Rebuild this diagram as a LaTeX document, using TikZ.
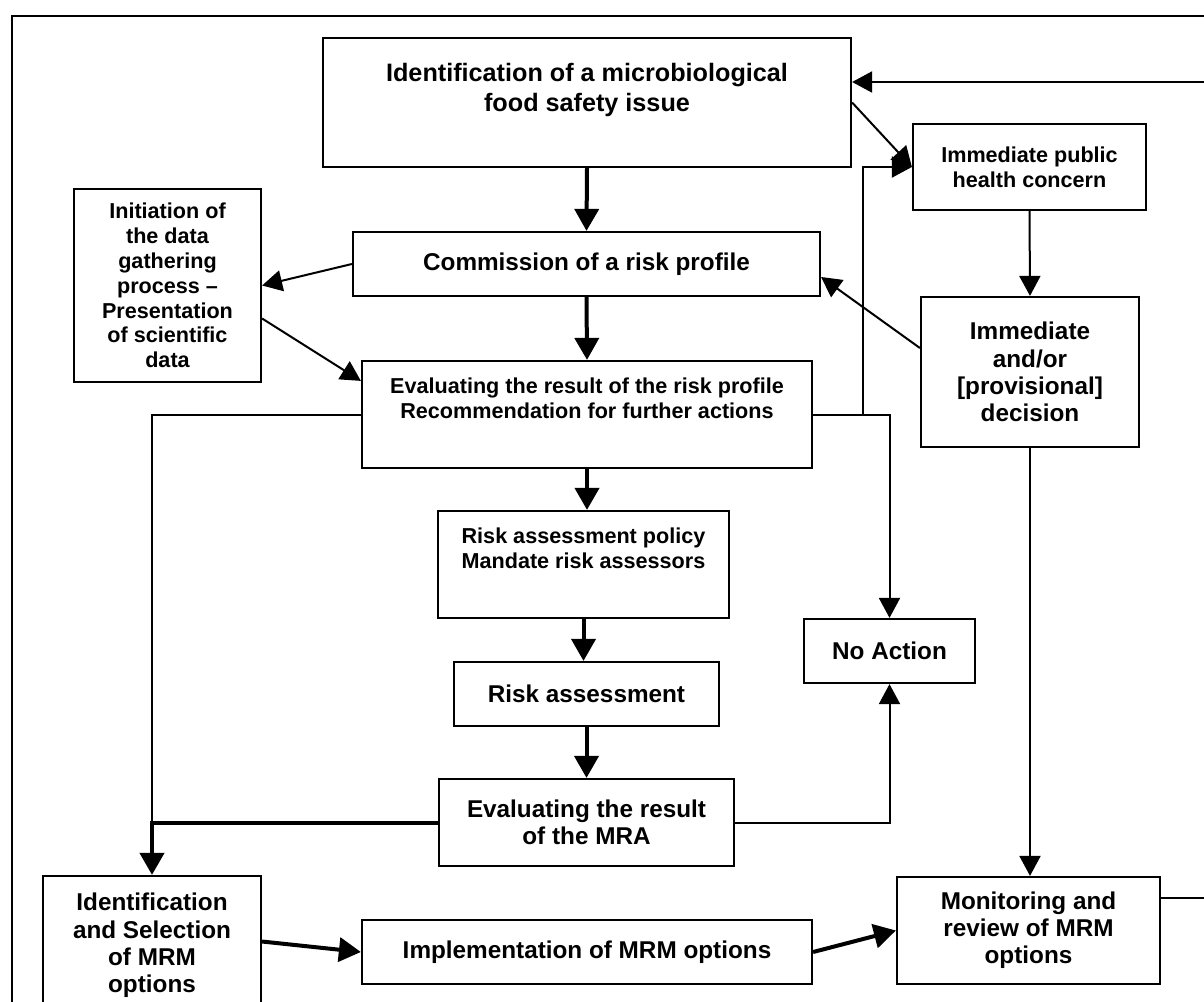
\documentclass[tikz,border=0pt]{standalone}
\usepackage{fontspec}
\setmainfont{Liberation Sans}
\usetikzlibrary{arrows.meta,calc}

\newcommand{\bigtxt}{\fontsize{12.6pt}{15pt}\selectfont\bfseries}
\newcommand{\normtxt}{\fontsize{12.15pt}{13.6pt}\selectfont\bfseries}
\newcommand{\smalltxt}{\fontsize{10.8pt}{12.4pt}\selectfont\bfseries}

\tikzset{
    box/.style={draw, line width=1.1pt, align=center, inner sep=0pt, font=\normtxt},
    plainline/.style={line width=1pt},
    flowthin/.style={line width=1pt, -{Triangle[length=10pt,width=10.5pt]}},
    flowthick/.style={line width=2pt, -{Triangle[length=11pt,width=12pt]}}
}

\begin{document}
\begin{tikzpicture}[x=0.5pt, y=-0.5pt]

    \useasboundingbox (0,0) rectangle (1204,1001);
    \clip (0,0) rectangle (1204,1001);

    % Frame
    \draw[line width=1.1pt] (12,1010) -- (12,16) -- (1210,16);

    % Central chain
    \node[box, font=\bigtxt, minimum width=264pt, minimum height=64.5pt] at (587,102.5) (issue) {Identification of a microbiological\\food safety issue\\\mbox{}};
    \node[box, minimum width=233.5pt, minimum height=32pt] at (586.5,264) (profile) {Commission of a risk profile};
    \node[box, font=\smalltxt, minimum width=225pt, minimum height=53.5pt] at (587,414.5) (evalrp) {Evaluating the result of the risk profile\\Recommendation for further actions\\[4pt]\mbox{}};
    \node[box, font=\smalltxt, minimum width=145.5pt, minimum height=53.5pt] at (583.5,564.5) (policy) {Risk assessment policy\\Mandate risk assessors\\[4pt]\mbox{}};
    \node[box, minimum width=132.5pt, minimum height=32pt] at (586.5,694) (assess) {Risk assessment};
    \node[box, minimum width=147.5pt, minimum height=43.5pt] at (586.5,822.5) (evalmra) {Evaluating the result\\of the MRA};

    % Side boxes
    \node[box, font=\smalltxt, minimum width=93.5pt, minimum height=96.5pt] at (167.5,285.5) (datagath) {Initiation of\\the data\\gathering\\process --\\Presentation\\of scientific\\data};
    \node[box, font=\smalltxt, minimum width=116.5pt, minimum height=43pt] at (1029.5,167) (concern) {Immediate public\\health concern};
    \node[box, minimum width=109pt, minimum height=75pt] at (1030,372) (decision) {Immediate\\and/or\\{[provisional]}\\decision};
    \node[box, minimum width=85.5pt, minimum height=32pt] at (889.5,651) (noaction) {No Action};

    % MRM options
    \node[box, minimum width=109pt, minimum height=69.5pt] at (152,945.5) (select) {Identification\\and Selection\\of MRM\\options};
    \node[box, minimum width=225pt, minimum height=32pt] at (587,952) (implement) {Implementation of MRM options};
    \node[box, minimum width=131.5pt, minimum height=53.5pt] at (1028.5,930.5) (monitor) {Monitoring and\\review of MRM\\options};

    % Main flow
    \draw[flowthick] (issue.south) -- (profile.north);
    \draw[flowthick] (profile.south) -- (evalrp.north);
    \draw[flowthick] (evalrp.south) -- (evalrp.south |- policy.north);
    \draw[flowthick] (policy.south) -- (policy.south |- assess.north);
    \draw[flowthick] (assess.south) -- (evalmra.north);

    % Data gathering
    \draw[flowthin] (profile.west) -- (datagath.east);
    \draw[flowthin] ($(datagath.east)+(0,33)$) -- ($(evalrp.north west)+(0,21)$);

    % Immediate concern
    \draw[flowthin] (issue.east) -- (concern.west);
    \coordinate (split) at ($(evalrp.east)+(50,0)$);
    \draw[flowthin] (split) |- (concern.west);
    \draw[flowthin] (concern.south) -- (decision.north);
    \draw[flowthin] ($(decision.west)+(0,-24)$) -- ($(profile.east)+(0,13)$);
    \draw[flowthin] (decision.south) -- (decision.south |- monitor.north);

    % No action
    \draw[flowthin] (evalrp.east) -| (noaction.north);
    \draw[flowthin] (evalmra.east) -| (noaction.south);

    % Towards MRM options
    \draw[plainline] (evalrp.west) -| (select.north |- evalmra.west);
    \draw[flowthick] (evalmra.west) -| (select.north);
    \draw[flowthick] ($(select.east)+(0,-4)$) -- (implement.west);
    \draw[flowthick] (implement.east) -- (monitor.west);

    % Feedback
    \draw[flowthin] ($(monitor.east)+(0,-33)$) -- ++(80,0) |- ($(issue.east)+(0,-20.5)$);

\end{tikzpicture}
\end{document}
